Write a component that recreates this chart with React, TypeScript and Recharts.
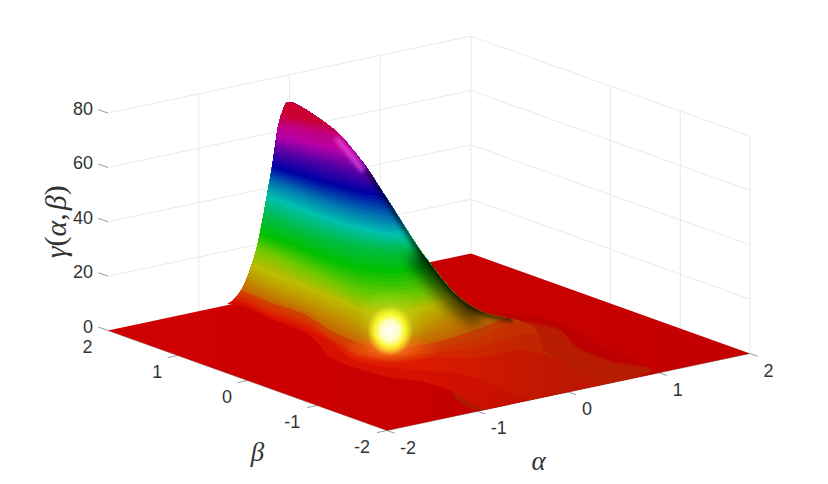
import React from "react";
import { ScatterChart, Scatter, XAxis, YAxis } from "recharts";

// axis ticks
const alphaTicks = [-2, -1, 0, 1, 2];
const betaTicks = [-2, -1, 0, 1, 2];
const gammaTicks = [0, 20, 40, 60, 80];

// ground coordinates of the view: cross runs left-right on screen, depth runs front-back
const sliceCross = [-229, -189, -159, -129, -114, -99, -84, -69, -39, -9, 21, 51, 91, 131, 171];
const levelGamma = [1, 2, 3.2, 4.5, 6, 8, 11, 15, 22, 29, 37, 44, 50, 57, 64, 72, 78, 84];

// depth of each gamma contour along the slices
const depth1 = [35, 34, 21, 9, -1, -18, -25, -30, -38, -42, -51, -68, -84, -101, -111];
const depth2 = [39, 35, 21, 10, 3, -5, -18, -26, -31, -34, -36, -43, -60, -75, -88];
const depth3 = [37, 33, 20, 10, 3, -5, -15, -23, -28, -25, -24, -24, -17, -27, -42];
const depth4 = [38, 33, 20, 10, 2, -9, -18, -25, -28, -25, -21, -17, -5, -5, -5];
const depth6 = [36, 32, 20, 9, 1, -10, -18, -24, -28, -25, -19, -12, 4, 4, 4];
const depth8 = [35, 30, 18, 8, 0, -10, -17, -23, -29, -25, -18, -8, 6, 6, 6];
const depth11 = [50, 38, 24, 12, 6, 0, -7, -14, -21, -16, -3, 7, 12, 12, 12];
const depth15 = [49, 39, 27, 15, 9, 3, -3, -9, -15, -9, 1, 6, 9, 9, 9];
const depth22 = [46, 37, 28, 14, 7, 0, -7, -13, -18, -13, -3, 4, 7, 7, 7];
const depth29 = [45, 35, 25, 14, 8, 2, -3, -7, -10, -7, -2, 1, 1, 1, 1];
const depth37 = [42, 32, 22, 11, 6, 1, -3, -6, -10, -10, -10, -10, -10, -10, -10];
const depth44 = [43, 33, 24, 13, 7, 2, -3, -7, -13, -13, -13, -13, -13, -13, -13];
const depth50 = [40, 31, 24, 14, 8, 3, -2, -6, -13, -16, -18, -19, -20, -20, -20];
const depth57 = [37, 28, 20, 11, 6, 2, -2, -6, -11, -15, -17, -19, -21, -21, -21];
const depth64 = [33, 24, 17, 10, 6, 2, -2, -6, -12, -17, -20, -22, -24, -24, -24];
const depth72 = [27, 18, 11, 4, 0, -3, -7, -10, -17, -24, -29, -32, -34, -34, -34];
const depth78 = [25, 15, 7, 0, -3, -6, -10, -14, -20, -28, -34, -38, -40, -40, -40];
const depth84 = [22, 10, 2, -4, -7, -10, -13, -16, -22, -28, -34, -40, -46, -46, -46];
const contourDepths = [depth1, depth2, depth3, depth4, depth6, depth8, depth11, depth15, depth22, depth29, depth37, depth44, depth50, depth57, depth64, depth72, depth78, depth84];

// outline of the raised surface seen from the camera
const outlineCross = [-209, -202, -194, -186, -179, -172, -166, -161, -157, -154, -151, -146, -140, -126, -106, -89, -76, -62, -49, -36, -22, -9, 4, 14, 28, 41, 54, 68, 84, 101, 109, 114, 131, 171, -42, -321.5];
const outlineDepth = [35, 25, 19, 18, 17, 16, 14, 12, 10, 8, 6, 3, 0, -2, -4, -6, -7, -7, -6, -5, -3, -1, 1, 2, 4, 6, 8, 10, 13, 12, 9, -8, -20, -43, -88.5, 11.5];
const outlineGamma = [0, 4.8, 9.2, 13.6, 20.2, 29.1, 40.5, 51.5, 60.7, 68.8, 76.9, 84.3, 88.3, 86.9, 82.8, 78.4, 73.2, 66.6, 58.9, 51.2, 42.3, 34.2, 27.2, 22.1, 15.8, 11.4, 8.1, 5.9, 3.7, 1.8, 0, 0, 0, 0, 0, 0];
const smoothOutlineCount = 32;
const crestStart = 15;
const crestEnd = 29;

// low relief of the plain on the right of the hill
const reliefOuterCross = [61, 111, 146, 171, 231, 211, 71];
const reliefOuterDepth = [30, 24, 12, -3, -30, -36, -58];
const reliefInnerCross = [68, 101, 131, 148, 181, 218, 51, 11];
const reliefInnerDepth = [26, 20, 12, -5, -19, -32, -68, -18];

const colormapGamma = [0, 1, 2, 3.2, 4.5, 6, 8, 11, 15, 22, 29, 37, 44, 50, 57, 64, 72, 78, 84, 88];
const colormapColor = ["#cc0000", "#d81000", "#dc1a00", "#d82800", "#d63400", "#d04000", "#c86800", "#c09800", "#bcbc00", "#70c800", "#00c000", "#00bc48", "#00bfb0", "#0070b0", "#0000a5", "#5500a5", "#b800a8", "#c00080", "#cc0030", "#d00010"];

const GAMMA_SCALE = 2.717;
const ground = (alpha: number, beta: number, gamma = 0) => ({
  x: 90.75 * alpha - 69.75 * beta,
  y: 19.25 * alpha + 25 * beta + GAMMA_SCALE * gamma,
});
const lifted = (cross: number, depth: number, gamma: number) => ({ x: cross, y: depth + GAMMA_SCALE * gamma });

const hex = (c: string) => [1, 3, 5].map((i) => parseInt(c.slice(i, i + 2), 16));
const colorAt = (g: number) => {
  let i = 0;
  while (i < colormapGamma.length - 2 && g > colormapGamma[i + 1]) i++;
  const t = Math.min(1, Math.max(0, (g - colormapGamma[i]) / (colormapGamma[i + 1] - colormapGamma[i])));
  const a = hex(colormapColor[i]);
  const b = hex(colormapColor[i + 1]);
  return `rgb(${a.map((v, k) => Math.round(v + (b[k] - v) * t)).join(",")})`;
};

type P = { x: number; y: number };
const spline = (p: P[], move = true) => {
  let d = move ? `M${p[0].x},${p[0].y}` : `L${p[0].x},${p[0].y}`;
  for (let i = 0; i < p.length - 1; i++) {
    const a = p[Math.max(0, i - 1)];
    const b = p[i];
    const c = p[i + 1];
    const e = p[Math.min(p.length - 1, i + 2)];
    d += `C${b.x + (c.x - a.x) / 6},${b.y + (c.y - a.y) / 6} ${c.x - (e.x - b.x) / 6},${c.y - (e.y - b.y) / 6} ${c.x},${c.y}`;
  }
  return d;
};
const straight = (p: P[]) => p.map((q, i) => `${i ? "L" : "M"}${q.x},${q.y}`).join("") + "Z";

// data sets
const planePoints = [ground(-2, 2), ground(-2, -2), ground(2, -2), ground(2, 2)];
const reliefOuter = reliefOuterCross.map((c, i) => lifted(c, reliefOuterDepth[i], 0));
const reliefInner = reliefInnerCross.map((c, i) => lifted(c, reliefInnerDepth[i], 0));
const outlinePoints = outlineCross.map((c, i) => lifted(c, outlineDepth[i], outlineGamma[i]));
const contourPoints = contourDepths.flatMap((row, k) => row.map((d, j) => lifted(sliceCross[j], d, levelGamma[k])));
const crestPoints = outlinePoints.slice(crestStart, crestEnd);

const gammaLevelsOnWalls = gammaTicks.filter((g) => g > 0);
const gridSegments = [
  ...gammaLevelsOnWalls.flatMap((g) => [ground(-2, 2, g), ground(2, 2, g), ground(2, 2, g), ground(2, -2, g)]),
  ...[-1, 0, 1, 2].flatMap((a) => [ground(a, 2, 0), ground(a, 2, 80)]),
  ...[0, -1, -2].flatMap((b) => [ground(2, b, 0), ground(2, b, 80)]),
];
const axisSegments = [
  ground(-2, 2), ground(-2, -2), ground(-2, -2), ground(2, -2),
  ...gammaTicks.flatMap((g) => [ground(-2, 2, g), ground(-2, 2.14, g)]),
  ...betaTicks.filter((b) => b < 2).flatMap((b) => [ground(-2, b), ground(-2.11, b)]),
  ...alphaTicks.flatMap((a) => [ground(a, -2), ground(a, -2.11)]),
];

const num = (v: number) => String(v);
const alphaLabels = alphaTicks.map((a) => ({ ...ground(a, -2), label: num(a), dx: a < 0 ? 21 : 18.5, dy: 17, anchor: "middle" }));
const betaLabels = betaTicks.map((b) => ({ ...ground(-2, b), label: num(b), dx: b < 0 ? -25 : -20.5, dy: 16, anchor: "middle" }));
const gammaLabels = gammaTicks.map((g) => ({ ...ground(-2, 2, g), label: num(g), dx: -15, dy: -4, anchor: "end" }));
const tickLabels = [...alphaLabels, ...betaLabels, ...gammaLabels];

const SANS = "'Liberation Sans', Arial, sans-serif";
const SERIF = "'Liberation Serif', 'DejaVu Serif', serif";
const INK = "#333333";

const none = () => null;

const renderSegments = (stroke: string, width: number) => (props: any) => {
  const p: P[] = props.points;
  const parts = [];
  for (let i = 0; i + 1 < p.length; i += 2) parts.push(`M${p[i].x},${p[i].y}L${p[i + 1].x},${p[i + 1].y}`);
  return <path d={parts.join("")} stroke={stroke} strokeWidth={width} fill="none" />;
};

const renderPlane = (props: any) => {
  const p: P[] = props.points;
  return (
    <g>
      <defs>
        <linearGradient id="planeFill" gradientUnits="userSpaceOnUse" x1={p[0].x} y1={0} x2={p[2].x} y2={0}>
          <stop offset="0" stopColor="#d00000" />
          <stop offset="0.6" stopColor="#c80000" />
          <stop offset="1" stopColor="#c40000" />
        </linearGradient>
      </defs>
      <path d={straight(p)} fill="url(#planeFill)" />
    </g>
  );
};

const renderFlat = (fill: string) => (props: any) => <path d={spline(props.points) + "Z"} fill={fill} filter="url(#soft1)" clipPath="url(#planeClip)" />;

const renderOutline = (props: any) => {
  const p: P[] = props.points;
  const d = spline(p.slice(0, smoothOutlineCount)) + p.slice(smoothOutlineCount).map((q) => `L${q.x},${q.y}`).join("") + "Z";
  return (
    <defs>
      <clipPath id="hillClip"><path d={d} /></clipPath>
      <filter id="soft1" x="-20%" y="-20%" width="140%" height="140%"><feGaussianBlur stdDeviation="1.2" /></filter>
      <filter id="blurWide" x="-40%" y="-40%" width="180%" height="180%"><feGaussianBlur stdDeviation="7" /></filter>
      <filter id="blurThin" x="-40%" y="-40%" width="180%" height="180%"><feGaussianBlur stdDeviation="2" /></filter>
      <radialGradient id="glowCore">
        <stop offset="0" stopColor="#ffffff" />
        <stop offset="0.42" stopColor="#fffcc0" />
        <stop offset="0.66" stopColor="#ffff30" stopOpacity="0.9" />
        <stop offset="1" stopColor="#ffff30" stopOpacity="0" />
      </radialGradient>
      <radialGradient id="glowFringe">
        <stop offset="0" stopColor="#ff7828" stopOpacity="0.95" />
        <stop offset="1" stopColor="#ff6010" stopOpacity="0" />
      </radialGradient>
      <radialGradient id="glowHalo">
        <stop offset="0" stopColor="#d8f030" stopOpacity="0.55" />
        <stop offset="1" stopColor="#d8f030" stopOpacity="0" />
      </radialGradient>
    </defs>
  );
};

const renderContours = (props: any) => {
  const p: P[] = props.points;
  const n = sliceCross.length;
  const rows = levelGamma.map((_, k) => p.slice(k * n, (k + 1) * n));
  const out: React.ReactNode[] = [];
  levelGamma.forEach((g, k) => {
    const next = rows[k + 1];
    const subs = !next ? 1 : g >= 8 ? 6 : 1;
    for (let s = 0; s < subs; s++) {
      const t = s / subs;
      const row = next ? rows[k].map((q, j) => ({ x: q.x, y: q.y + (next[j].y - q.y) * t })) : rows[k];
      const gg = next ? g + (levelGamma[k + 1] - g) * t : g;
      const last = row[row.length - 1];
      out.push(<path key={`${k}-${s}`} d={spline(row) + `L${last.x},-20L${row[0].x},-20Z`} fill={colorAt(gg)} />);
    }
  });
  return <g clipPath="url(#hillClip)">{out}</g>;
};

const renderShade = (props: any) => {
  const p: P[] = props.points;
  const edge = p.slice(2);
  const lower = p.slice(6, 12);
  const glint = p.slice(0, 3).map((q) => ({ x: q.x - 4, y: q.y + 3 }));
  const from = p[6].x;
  const to = p[13].x + 50;
  return (
    <g clipPath="url(#hillClip)">
      <defs>
        <linearGradient id="sideShade" gradientUnits="userSpaceOnUse" x1={from} y1={0} x2={to} y2={0}>
          <stop offset="0" stopColor="#000" stopOpacity="0" />
          <stop offset="1" stopColor="#000" stopOpacity="0.14" />
        </linearGradient>
      </defs>
      <rect x={0} y={0} width={828} height={484} fill="url(#sideShade)" />
      <path d={spline(edge)} stroke="#000" strokeOpacity={0.55} strokeWidth={7} fill="none" filter="url(#blurThin)" />
      <path d={spline(lower)} stroke="#000" strokeOpacity={0.6} strokeWidth={30} fill="none" filter="url(#blurWide)" />
      <path d={spline(glint)} stroke="#f060f0" strokeOpacity={0.8} strokeWidth={4} fill="none" filter="url(#blurThin)" />
    </g>
  );
};

const glowPoint = [lifted(-40, -17, 10)];
const renderGlow = (props: any) => (
  <g>
    <ellipse cx={props.cx + 1} cy={props.cy - 8} rx={34} ry={38} fill="url(#glowHalo)" />
    <ellipse cx={props.cx + 1} cy={props.cy + 17} rx={50} ry={15} fill="url(#glowFringe)" />
    <ellipse cx={props.cx + 1} cy={props.cy - 1} rx={23} ry={25} fill="url(#glowCore)" />
  </g>
);

const renderTick = (props: any) => {
  const v = props.payload;
  return (
    <text x={props.cx + v.dx} y={props.cy + v.dy} textAnchor={v.anchor} dominantBaseline="central" fontFamily={SANS} fontSize={18} fill={INK}>
      {v.label}
    </text>
  );
};

const titleGamma = [{ ...ground(-2, 2, 40), dx: -53, dy: 0 }];
const titleBeta = [{ ...ground(-2, 0), dx: 10, dy: 71 }];
const titleAlpha = [{ ...ground(0, -2), dx: -30, dy: 69 }];

const renderGammaTitle = (props: any) => {
  const x = props.cx + props.payload.dx;
  const y = props.cy + props.payload.dy;
  return (
    <text x={x} y={y} transform={`rotate(-90 ${x} ${y})`} textAnchor="middle" dominantBaseline="central" fontFamily={SERIF} fontSize={30} fill={INK}>
      <tspan fontStyle="italic">γ</tspan>(<tspan fontStyle="italic">α</tspan>,<tspan fontStyle="italic" dx="3">β</tspan>)
    </text>
  );
};
const renderLetter = (letter: string) => (props: any) => (
  <text x={props.cx + props.payload.dx} y={props.cy + props.payload.dy} textAnchor="middle" dominantBaseline="central" fontFamily={SERIF} fontStyle="italic" fontSize={27} fill={INK}>
    {letter}
  </text>
);

const renderPlaneClip = (props: any) => (
  <defs><clipPath id="planeClip"><path d={straight(props.points)} /></clipPath></defs>
);

export default function App() {
  return (
    <div style={{ position: "absolute", left: 0, top: 0, width: 828, height: 484, background: "#fff" }}>
      <ScatterChart width={828} height={484} margin={{ top: 0, right: 0, bottom: 0, left: 0 }}>
        <XAxis type="number" dataKey="x" domain={[-429, 399]} hide allowDataOverflow />
        <YAxis type="number" dataKey="y" domain={[-142, 342]} hide allowDataOverflow />
        <Scatter data={outlinePoints} line={renderOutline} shape={none} isAnimationActive={false} legendType="none" />
        <Scatter data={planePoints} line={renderPlaneClip} shape={none} isAnimationActive={false} legendType="none" />
        <Scatter data={gridSegments} line={renderSegments("#e3e3e3", 0.8)} shape={none} isAnimationActive={false} legendType="none" />
        <Scatter data={axisSegments} line={renderSegments("#555555", 0.6)} shape={none} isAnimationActive={false} legendType="none" />
        <Scatter data={planePoints} line={renderPlane} shape={none} isAnimationActive={false} legendType="none" />
        <Scatter data={reliefOuter} line={renderFlat("#bc0600")} shape={none} isAnimationActive={false} legendType="none" />
        <Scatter data={reliefInner} line={renderFlat("#b81c00")} shape={none} isAnimationActive={false} legendType="none" />
        <Scatter data={contourPoints} line={renderContours} shape={none} isAnimationActive={false} legendType="none" />
        <Scatter data={crestPoints} line={renderShade} shape={none} isAnimationActive={false} legendType="none" />
        <Scatter data={glowPoint} shape={renderGlow} isAnimationActive={false} legendType="none" />
        <Scatter data={tickLabels} shape={renderTick} isAnimationActive={false} legendType="none" />
        <Scatter data={titleGamma} shape={renderGammaTitle} isAnimationActive={false} legendType="none" />
        <Scatter data={titleBeta} shape={renderLetter("β")} isAnimationActive={false} legendType="none" />
        <Scatter data={titleAlpha} shape={renderLetter("α")} isAnimationActive={false} legendType="none" />
      </ScatterChart>
    </div>
  );
}
